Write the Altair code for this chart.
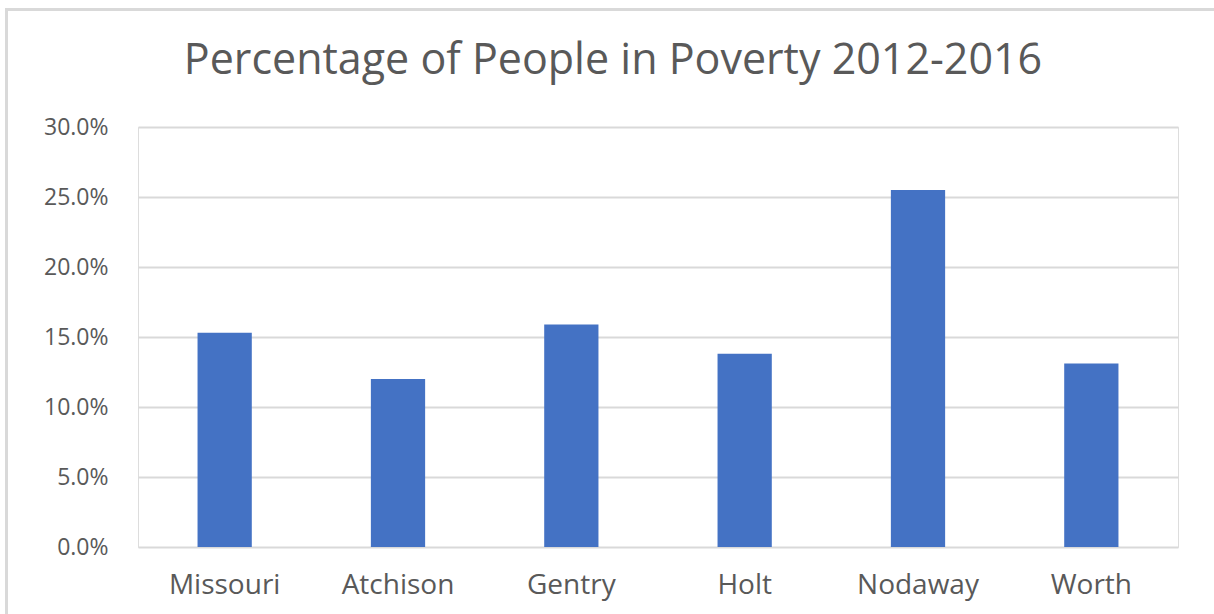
import altair as alt
import pandas as pd

counties = ["Missouri", "Atchison", "Gentry", "Holt", "Nodaway", "Worth"]
poverty_rate = [0.153, 0.120, 0.159, 0.138, 0.255, 0.131]
y_ticks = [0.0, 0.05, 0.10, 0.15, 0.20, 0.25, 0.30]

df = pd.DataFrame({"county": counties, "rate": poverty_rate})

FONT = "Open Sans"
TEXT = "#595959"

bars = alt.Chart(df).mark_bar(color="#4472C4").encode(
    x=alt.X(
        "county:N",
        sort=counties,
        title=None,
        scale=alt.Scale(paddingInner=0.687, paddingOuter=0.3435),
        axis=alt.Axis(
            labelAngle=0,
            labelFont=FONT,
            labelFontSize=28,
            labelColor=TEXT,
            labelBaseline="alphabetic",
            labelPadding=46,
            ticks=False,
            domain=False,
            grid=False,
        ),
    ),
    y=alt.Y(
        "rate:Q",
        title=None,
        scale=alt.Scale(domain=[0, 0.3], nice=False),
        axis=alt.Axis(
            values=y_ticks,
            format=".1%",
            labelFont=FONT,
            labelFontSize=23,
            labelColor=TEXT,
            labelPadding=30,
            ticks=False,
            domain=False,
            grid=True,
            gridColor="#D9D9D9",
            gridWidth=2,
        ),
    ),
)

border = alt.Chart(pd.DataFrame({"k": [0]})).mark_rect(
    fill=None, stroke="#D9D9D9", strokeWidth=3
).encode(
    x=alt.value(-131.5), x2=alt.value(1092), y=alt.value(-117.5), y2=alt.value(503)
)

chart = alt.layer(border, bars).properties(
    width=1040,
    height=420,
    padding={"left": 138, "top": 127, "right": 36, "bottom": 67},
    autosize=alt.AutoSizeParams(type="none"),
    title=alt.TitleParams(
        "Percentage of People in Poverty 2012-2016",
        font=FONT,
        fontSize=43,
        fontWeight="normal",
        color=TEXT,
        anchor="middle",
        frame="group",
        baseline="alphabetic",
        offset=-109,
        dx=-45,
    ),
).configure_view(stroke="transparent", strokeWidth=0).configure(background="white")

chart.save("out.html", embed_options={"renderer": "svg", "actions": False})
